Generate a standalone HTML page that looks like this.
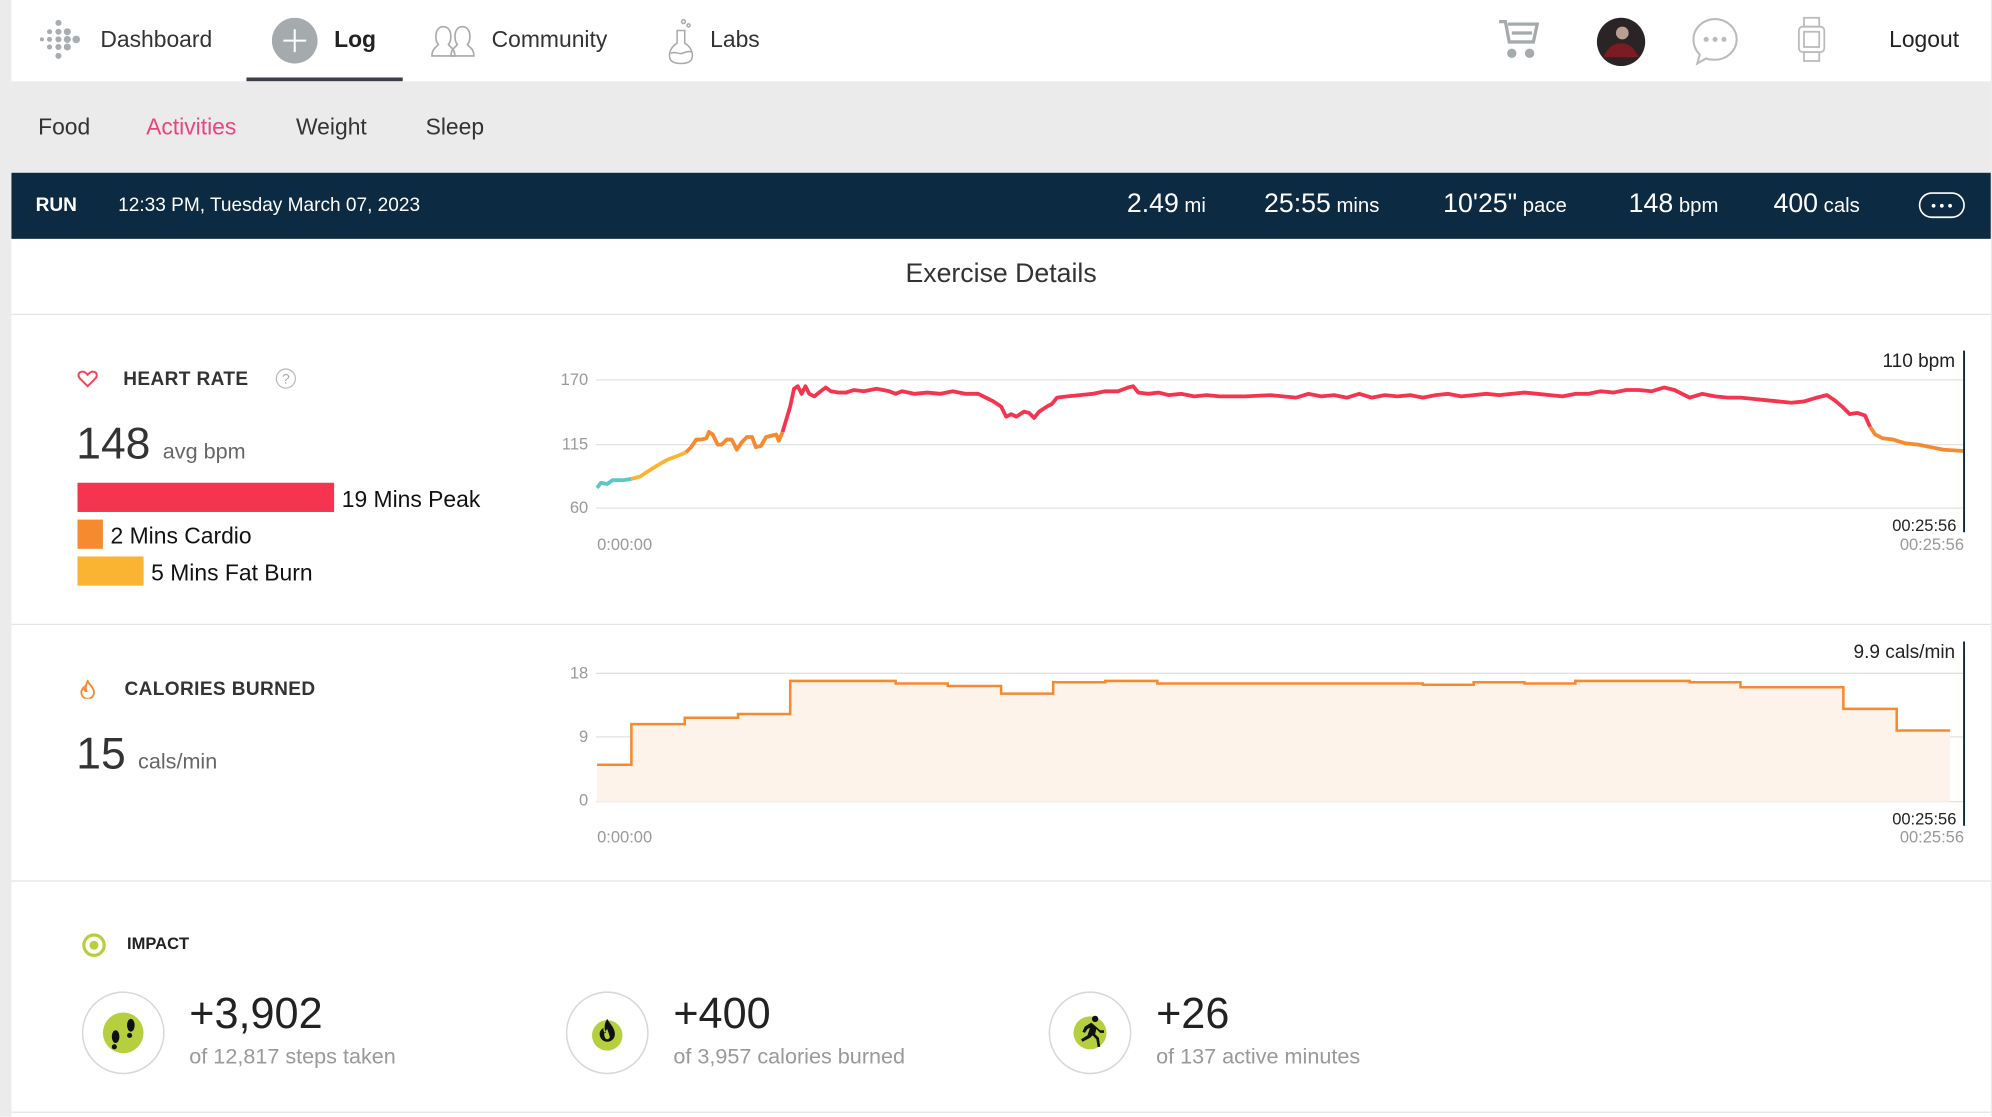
<!DOCTYPE html>
<html><head><meta charset="utf-8"><style>
html,body{margin:0;padding:0;background:#fff;overflow:hidden;width:1992px;height:1116px}
#w{position:absolute;left:0;top:0;width:1568px;height:879px;transform:scale(1.27041);transform-origin:0 0;font-family:"Liberation Sans",sans-serif;background:#fff}
.a{position:absolute;white-space:nowrap}
</style></head><body><div id="w">
<div class="a" style="left:0;top:0;width:9px;height:879px;background:#ebebeb"></div>
<div class="a" style="left:1567px;top:0;width:1px;height:879px;background:#ebebeb"></div>
<!-- top nav -->
<svg class="a" style="left:28px;top:14px" width="38" height="36"><g fill="#a7adb0">
<circle cx="5" cy="17" r="1.6"/><circle cx="11" cy="11" r="2"/><circle cx="11" cy="17" r="2"/><circle cx="11" cy="23" r="2"/>
<circle cx="18" cy="4" r="2.4"/><circle cx="18" cy="11" r="2.4"/><circle cx="18" cy="17" r="2.4"/><circle cx="18" cy="23" r="2.4"/><circle cx="18" cy="30" r="2.4"/>
<circle cx="25" cy="11" r="2.8"/><circle cx="25" cy="17" r="2.8"/><circle cx="25" cy="23" r="2.8"/><circle cx="32" cy="17" r="3"/></g></svg>
<div class="a" style="left:79px;top:21px;font-size:18px;color:#333">Dashboard</div>
<svg class="a" style="left:214px;top:14px" width="36" height="36"><circle cx="18" cy="18" r="18" fill="#a5abac"/><path d="M18 9v18M9 18h18" stroke="#fff" stroke-width="1.6"/></svg>
<div class="a" style="left:263px;top:21px;font-size:18px;color:#222;font-weight:bold">Log</div>
<div class="a" style="left:194px;top:61px;width:123px;height:3px;background:#3a3f4a"></div>
<svg class="a" style="left:337px;top:18px" width="38" height="28" fill="none" stroke="#aaa" stroke-width="1.3"><path d="M3 26c0-6 4-7 5-9-3-3-3-14 4-14s7 11 4 14c1 2 5 3 5 9z"/><path d="M18 26c0-6 4-7 5-9-3-3-3-14 4-14s7 11 4 14c1 2 5 3 5 9z"/></svg>
<div class="a" style="left:387px;top:21px;font-size:18px;color:#333">Community</div>
<svg class="a" style="left:524px;top:14px" width="26" height="38" fill="none" stroke="#aaa" stroke-width="1.2"><circle cx="14" cy="3" r="1.5"/><circle cx="18" cy="6" r="1.2"/><path d="M9 10v10c-5 3-6 7-6 10 0 4 3 6 9 6s9-2 9-6c0-3-1-7-6-10V10z"/><path d="M4 28c4-2 6 1 9 0s5-2 8-1"/></svg>
<div class="a" style="left:559px;top:21px;font-size:18px;color:#333">Labs</div>
<svg class="a" style="left:1178px;top:14px" width="36" height="34" fill="none" stroke="#a5abac" stroke-width="2.6"><path d="M2 3h5l3 16h19l3-14H9"/><path d="M12 12h16"/><circle cx="12" cy="28" r="2.4" fill="#a5abac"/><circle cx="26" cy="28" r="2.4" fill="#a5abac"/></svg>
<svg class="a" style="left:1256px;top:13px" width="40" height="40"><circle cx="20" cy="20" r="19" fill="#2a2426"/><path d="M6 32c4-8 8-11 14-11s10 3 14 11z" fill="#7a1c22"/><circle cx="21" cy="13" r="5" fill="#b8a090"/></svg>
<svg class="a" style="left:1330px;top:12px" width="40" height="40" fill="none" stroke="#bbb" stroke-width="1.6"><path d="M20 3c9 0 17 7 17 16s-8 16-17 16c-3 0-5 0-7-1l-7 4 2-7c-3-3-5-7-5-12C3 10 11 3 20 3z"/><g fill="#bbb" stroke="none"><circle cx="13" cy="19" r="2"/><circle cx="20" cy="19" r="2"/><circle cx="27" cy="19" r="2"/></g></svg>
<svg class="a" style="left:1413px;top:13px" width="26" height="36" fill="none" stroke="#bbb" stroke-width="1.4"><rect x="7" y="1" width="12" height="7"/><rect x="3" y="8" width="20" height="20" rx="3"/><rect x="7" y="12" width="12" height="12"/><rect x="7" y="28" width="12" height="7"/></svg>
<div class="a" style="left:1487px;top:21px;font-size:18px;color:#222">Logout</div>
<!-- sub nav -->
<div class="a" style="left:9px;top:64px;width:1558px;height:72px;background:#ebebeb"></div>
<div class="a" style="left:30px;top:90px;font-size:18px;color:#333">Food</div>
<div class="a" style="left:115px;top:90px;font-size:18px;color:#e8467c">Activities</div>
<div class="a" style="left:233px;top:90px;font-size:18px;color:#333">Weight</div>
<div class="a" style="left:335px;top:90px;font-size:18px;color:#333">Sleep</div>
<!-- dark bar -->
<div class="a" style="left:9px;top:136px;width:1558px;height:52px;background:#0c2b42"></div>
<div class="a" style="left:28px;top:153px;font-size:15px;color:#fff;font-weight:bold">RUN</div>
<div class="a" style="left:93px;top:153px;font-size:15px;color:#fff">12:33 PM, Tuesday March 07, 2023</div>
<div class="a" style="left:887px;top:149px;font-size:21px;color:#fff">2.49<span style="font-size:16px"> mi</span></div>
<div class="a" style="left:995px;top:149px;font-size:21px;color:#fff">25:55<span style="font-size:16px"> mins</span></div>
<div class="a" style="left:1136px;top:149px;font-size:21px;color:#fff">10'25"<span style="font-size:16px"> pace</span></div>
<div class="a" style="left:1282px;top:149px;font-size:21px;color:#fff">148<span style="font-size:16px"> bpm</span></div>
<div class="a" style="left:1396px;top:149px;font-size:21px;color:#fff">400<span style="font-size:16px"> cals</span></div>
<svg class="a" style="left:1510px;top:151px" width="38" height="22"><rect x="1" y="1" width="35" height="19" rx="9.5" fill="none" stroke="#fff" stroke-width="1.3"/><g fill="#fff"><circle cx="12" cy="11" r="1.5"/><circle cx="18.5" cy="11" r="1.5"/><circle cx="25" cy="11" r="1.5"/></g></svg>
<!-- exercise details -->
<div class="a" style="left:9px;top:204px;width:1558px;text-align:center;font-size:21px;color:#333">Exercise Details</div>
<div class="a" style="left:9px;top:247px;width:1558px;height:1px;background:#e4e4e4"></div>
<!-- heart rate -->
<svg class="a" style="left:61px;top:291px" width="16" height="14"><path d="M8 13L2 7C0 5 0.5 1.5 4 1.5c2 0 3 1.5 4 2.5 1-1 2-2.5 4-2.5 3.5 0 4 3.5 2 5.5z" fill="none" stroke="#f0485a" stroke-width="1.6"/></svg>
<div class="a" style="left:97px;top:290px;font-size:15px;color:#333;font-weight:bold;letter-spacing:0.3px">HEART RATE</div>
<svg class="a" style="left:216px;top:289px" width="18" height="18"><circle cx="9" cy="9" r="7.5" fill="none" stroke="#bbb"/><text x="9" y="13" text-anchor="middle" font-size="11" fill="#aaa" font-family="Liberation Sans">?</text></svg>
<div class="a" style="left:60px;top:330px;font-size:35px;color:#333;font-weight:300">148 <span style="font-size:17px;color:#666">avg bpm</span></div>
<div class="a" style="left:61px;top:380px;width:202px;height:23px;background:#f5344f"></div>
<div class="a" style="left:269px;top:383px;font-size:18px;color:#111">19 Mins Peak</div>
<div class="a" style="left:61px;top:409px;width:20px;height:23px;background:#f68a2f"></div>
<div class="a" style="left:87px;top:412px;font-size:18px;color:#111">2 Mins Cardio</div>
<div class="a" style="left:61px;top:438px;width:52px;height:23px;background:#fbb432"></div>
<div class="a" style="left:119px;top:441px;font-size:18px;color:#111">5 Mins Fat Burn</div>
<svg class="a" style="left:0;top:0" width="1568" height="879" font-family="Liberation Sans">
<g stroke="#e2e2e2" stroke-width="1"><line x1="469" y1="299" x2="1546" y2="299"/><line x1="469" y1="350" x2="1546" y2="350"/><line x1="469" y1="400" x2="1546" y2="400"/>
<line x1="469" y1="530" x2="1546" y2="530"/><line x1="469" y1="580" x2="1546" y2="580"/><line x1="469" y1="631" x2="1546" y2="631"/></g>
<g font-size="13" fill="#999" text-anchor="end"><text x="463" y="303">170</text><text x="463" y="354">115</text><text x="463" y="404">60</text>
<text x="463" y="534">18</text><text x="463" y="584">9</text><text x="463" y="634">0</text></g>
<g font-size="13" fill="#999"><text x="470" y="433">0:00:00</text><text x="470" y="663">0:00:00</text></g>
<g fill="none" stroke-width="3" stroke-linejoin="round">
<polyline stroke="#5ec6c6" points="470,384 473,380 478,381 482,378 490,378 497,377"/>
<polyline stroke="#fbb432" points="497,377 504,375 510,371 518,366 525,362 533,359 540,356"/>
<polyline stroke="#f68a2f" points="540,356 544,352 548,346 552,346 556,345 558,340 561,342 565,350 568,350 572,346 576,346 580,354 584,348 588,344 592,344 595,352 599,351 603,344 607,343 611,342 613,347 616,340"/>
<polyline stroke="#f5344f" points="616,340 619,330 622,320 625,306 628,304 631,310 634,304 637,310 641,312 646,308 650,305 654,308 660,309 666,309 672,307 680,308 690,306 700,308 705,310 710,308 720,310 730,309 740,310 750,308 760,310 770,310 776,313 782,316 788,320 792,328 796,326 800,328 806,324 810,325 814,329 818,324 824,320 828,318 832,313 840,312 850,311 860,310 870,308 880,308 888,305 892,304 896,309 904,310 912,309 920,311 930,310 940,312 950,311 960,312 980,312 1000,311 1020,313 1030,310 1040,312 1050,311 1060,313 1070,310 1080,313 1090,311 1100,312 1110,311 1120,313 1130,311 1140,310 1150,312 1160,311 1170,310 1180,311 1200,309 1210,310 1220,311 1230,312 1240,310 1250,310 1260,308 1270,309 1280,307 1290,307 1300,308 1310,305 1318,307 1330,313 1340,310 1350,312 1360,313 1370,313 1380,314 1390,315 1400,316 1410,317 1420,316 1430,313 1438,311 1444,315 1450,320 1456,326 1462,325 1468,327 1472,336"/>
<polyline stroke="#f68a2f" points="1472,336 1476,342 1482,345 1490,346 1500,349 1510,350 1520,352 1530,354 1546,355"/>
</g>
<line x1="1546" y1="276" x2="1546" y2="419" stroke="#0c2b42" stroke-width="1.5"/>
<text x="1539" y="289" font-size="15" fill="#222" text-anchor="end">110 bpm</text>
<text x="1540" y="418" font-size="13" fill="#222" text-anchor="end">00:25:56</text>
<text x="1546" y="433" font-size="13" fill="#999" text-anchor="end">00:25:56</text>
<!-- calories -->
<path d="M470,602 H497 V570 H539 V565 H581 V562 H622 V536 H705 V538 H746 V540 H788 V546 H829 V537 H870 V536 H911 V538 H1120 V539 H1160 V537 H1200 V538 H1240 V536 H1330 V537 H1370 V541 H1451 V558 H1493 V575 H1535 V631 H470 Z" fill="#fdf3eb"/>
<path d="M470,602 H497 V570 H539 V565 H581 V562 H622 V536 H705 V538 H746 V540 H788 V546 H829 V537 H870 V536 H911 V538 H1120 V539 H1160 V537 H1200 V538 H1240 V536 H1330 V537 H1370 V541 H1451 V558 H1493 V575 H1535" fill="none" stroke="#f68a2f" stroke-width="2"/>
<line x1="1546" y1="505" x2="1546" y2="650" stroke="#0c2b42" stroke-width="1.5"/>
<text x="1539" y="518" font-size="15" fill="#222" text-anchor="end">9.9 cals/min</text>
<text x="1540" y="649" font-size="13" fill="#222" text-anchor="end">00:25:56</text>
<text x="1546" y="663" font-size="13" fill="#999" text-anchor="end">00:25:56</text>
</svg>
<div class="a" style="left:9px;top:491px;width:1558px;height:1px;background:#e4e4e4"></div>
<svg class="a" style="left:63px;top:535px" width="12" height="15"><path d="M6 1c1 3 5 5 5 9a5 5 0 0 1-10 0c0-2 1-3 2-4 0 2 1 3 2 3-1-3 0-6 1-8z" fill="none" stroke="#f68a2f" stroke-width="1.5"/></svg>
<div class="a" style="left:98px;top:534px;font-size:15px;color:#333;font-weight:bold;letter-spacing:0.3px">CALORIES BURNED</div>
<div class="a" style="left:60px;top:574px;font-size:35px;color:#333;font-weight:300">15 <span style="font-size:17px;color:#666">cals/min</span></div>
<div class="a" style="left:9px;top:693px;width:1558px;height:1px;background:#e4e4e4"></div>
<!-- impact -->
<svg class="a" style="left:64px;top:734px" width="20" height="20"><circle cx="10" cy="10" r="8" fill="none" stroke="#b5cf3e" stroke-width="2.5"/><circle cx="10" cy="10" r="3.5" fill="#b5cf3e"/></svg>
<div class="a" style="left:100px;top:735px;font-size:13px;color:#222;font-weight:bold">IMPACT</div>
<svg class="a" style="left:0;top:770px" width="1568" height="80">
<g fill="#fff" stroke="#d8d8d8" stroke-width="1.2"><circle cx="97" cy="43" r="32"/><circle cx="478" cy="43" r="32"/><circle cx="858" cy="43" r="32"/></g>
<g fill="#b5cf3e"><circle cx="97" cy="43" r="16"/><circle cx="478" cy="45" r="12"/><circle cx="858" cy="43" r="13"/></g>
<g fill="#111"><ellipse cx="91" cy="46" rx="3" ry="5"/><circle cx="90" cy="54" r="2"/><ellipse cx="103" cy="37" rx="3" ry="5"/><circle cx="102" cy="45" r="2"/>
<path d="M478 32c2 4 6 7 6 12a6 6 0 0 1-12 0c0-3 2-4 3-5 0 2 0 4 2 4-2-4-1-8 1-11z M478 40c-2 2-3 4-2 6a2 2 0 0 0 4 0z" fill-rule="evenodd"/>
<circle cx="862" cy="32" r="2.5"/><path d="M859 35l-5 3-2 4 2 1 2-3 2-1-2 6-5 3 1 2 6-3 2-2 3 3 1 6h2l-1-7-3-3 1-4 3 3 3 0v-2l-3 0z"/></g>
</svg>
<div class="a" style="left:149px;top:779px;font-size:34px;color:#222;font-weight:300">+3,902</div>
<div class="a" style="left:149px;top:822px;font-size:17px;color:#999">of 12,817 steps taken</div>
<div class="a" style="left:530px;top:779px;font-size:34px;color:#222;font-weight:300">+400</div>
<div class="a" style="left:530px;top:822px;font-size:17px;color:#999">of 3,957 calories burned</div>
<div class="a" style="left:910px;top:779px;font-size:34px;color:#222;font-weight:300">+26</div>
<div class="a" style="left:910px;top:822px;font-size:17px;color:#999">of 137 active minutes</div>
<div class="a" style="left:9px;top:875px;width:1558px;height:1px;background:#e4e4e4"></div>
</div></body></html>
